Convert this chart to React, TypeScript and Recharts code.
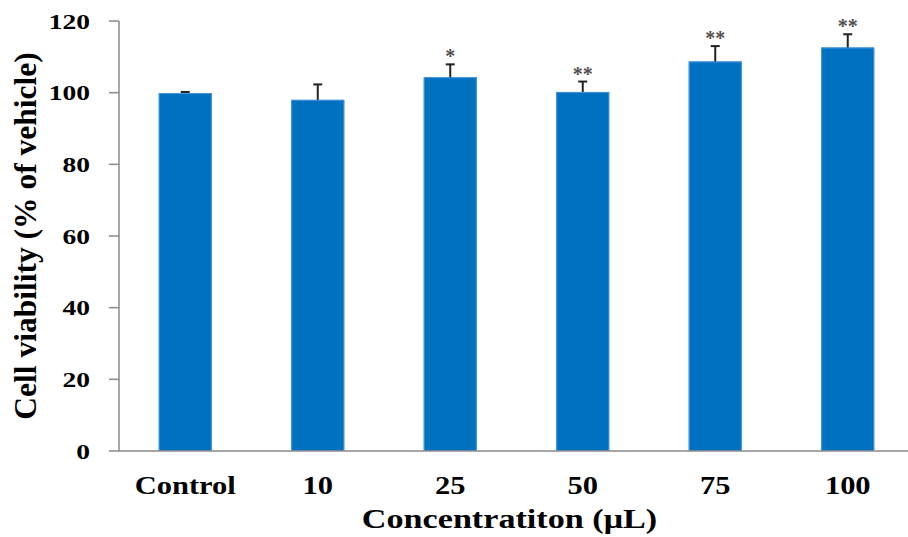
import React from 'react';
import { BarChart, Bar, XAxis, YAxis } from 'recharts';

const categories = ['Control', '10', '25', '50', '75', '100'];
const viability = [99.9, 98.0, 104.3, 100.2, 108.7, 112.6];
const sem = [0.3, 4.3, 3.6, 2.9, 4.3, 3.7];
const marks = ['', '', '*', '**', '**', '**'];
const yTicks = [0, 20, 40, 60, 80, 100, 120];
const boundaryTicks = [0, 1, 2, 3, 4, 5, 6];

const data = categories.map((name, i) => ({
  name,
  value: viability[i],
  err: sem[i],
  mark: marks[i],
}));

const FONT = '"Liberation Serif", "Times New Roman", serif';
const AXIS_GRAY = '#8a8a8a';
const Y_LABEL_RIGHT = 90;

// bar + upper whisker + significance stars
const BarWithError = (props: any) => {
  const { x, y, width, height, payload } = props;
  const perUnit = height / payload.value;
  const cx = x + width / 2;
  const capY = y - payload.err * perUnit;
  return (
    <g>
      <rect x={x} y={y} width={width} height={height} fill="#0070C0" />
      <rect x={x + 0.5} y={y + 0.5} width={width - 1} height={height - 1} fill="none" stroke="#3f95dc" strokeWidth={1} />
      <line x1={cx} y1={y} x2={cx} y2={capY} stroke="#222" strokeWidth={2} />
      <line x1={cx - 4.5} y1={capY} x2={cx + 4.5} y2={capY} stroke="#222" strokeWidth={2} />
      {payload.mark && (
        <text x={cx} y={capY - 1} textAnchor="middle" fontFamily={FONT} fontWeight="bold" fontSize={20} fill="#505050">
          {payload.mark}
        </text>
      )}
    </g>
  );
};

const renderYTick = (props: any) => {
  const { y, payload } = props;
  return (
    <g transform={`translate(${Y_LABEL_RIGHT},${y})`}>
      <text transform="scale(1.25,1)" textAnchor="end" dy="0.35em" fontFamily={FONT} fontWeight="bold" fontSize={22} fill="#000">
        {payload.value}
      </text>
    </g>
  );
};

const renderXTick = (props: any) => {
  const { x, y, payload } = props;
  return (
    <g transform={`translate(${x},${y})`}>
      <text transform="scale(1.22,1)" textAnchor="middle" dy={25} fontFamily={FONT} fontWeight="bold" fontSize={25} fill="#000">
        {payload.value}
      </text>
    </g>
  );
};

const renderXTitle = (props: any) => {
  const { viewBox } = props;
  return (
    <g transform={`translate(${viewBox.x + viewBox.width / 2 - 7},528)`}>
      <text transform="scale(1.22,1)" textAnchor="middle" fontFamily={FONT} fontWeight="bold" fontSize={28} fill="#000">
        Concentratiton (μL)
      </text>
    </g>
  );
};

const renderYTitle = (props: any) => {
  const { viewBox } = props;
  const cy = viewBox.y + viewBox.height / 2;
  return (
    <text
      x={36}
      y={cy}
      transform={`rotate(-90, 36, ${cy})`}
      textAnchor="middle"
      fontFamily={FONT}
      fontWeight="bold"
      fontSize={31.5}
      fill="#000"
    >
      Cell viability (% of vehicle)
    </text>
  );
};

export default function App() {
  return (
    <div style={{ position: 'absolute', left: 0, top: 0, width: 908, height: 537, overflow: 'hidden', background: '#fff' }}>
      <BarChart
        width={914}
        height={537}
        data={data}
        margin={{ top: 21, right: 0, left: 0, bottom: 0 }}
        barCategoryGap="30%"
      >
        <XAxis
          xAxisId="bounds"
          type="number"
          domain={[0, 6]}
          ticks={boundaryTicks}
          height={0}
          axisLine={false}
          tickSize={10}
          tickLine={{ stroke: AXIS_GRAY, strokeWidth: 1.5 }}
          tick={() => <g />}
        />
        <XAxis
          xAxisId="cat"
          dataKey="name"
          height={86}
          tickLine={false}
          tickSize={10}
          tickMargin={8}
          axisLine={{ stroke: AXIS_GRAY, strokeWidth: 1.5 }}
          tick={renderXTick}
          interval={0}
          label={{ content: renderXTitle }}
        />
        <YAxis
          width={119}
          domain={[0, 120]}
          ticks={yTicks}
          tickSize={10}
          axisLine={{ stroke: AXIS_GRAY, strokeWidth: 1.5 }}
          tickLine={{ stroke: AXIS_GRAY, strokeWidth: 1.5 }}
          tick={renderYTick}
          label={{ content: renderYTitle }}
        />
        <Bar xAxisId="cat" dataKey="value" shape={<BarWithError />} isAnimationActive={false} />
      </BarChart>
    </div>
  );
}
